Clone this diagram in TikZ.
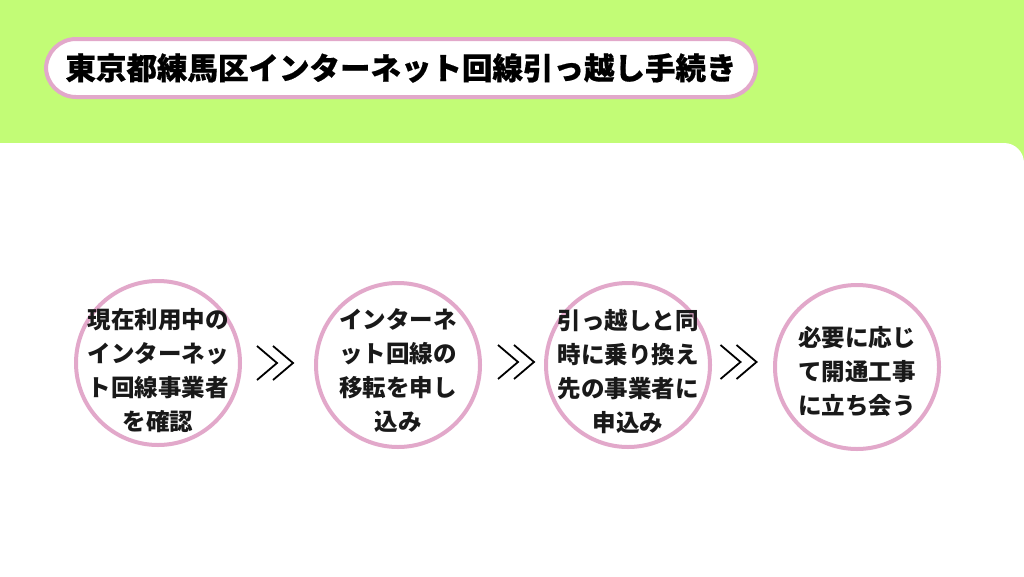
\documentclass[tikz,border=0pt]{standalone}
\usepackage{fontspec}
\newfontfamily\cjk{Noto Sans CJK JP}
\newfontfamily\cjkt[BoldFeatures={FakeBold=0.6}]{Noto Sans CJK JP}
\usetikzlibrary{calc}
\definecolor{bggreen}{RGB}{194,252,118}
\definecolor{pinkline}{RGB}{226,168,202}
\tikzset{
  titlebox/.style={draw=pinkline, line width=4pt, fill=white, rounded corners=30pt,
    minimum width=710pt, minimum height=58pt, inner sep=0pt,
    font=\cjkt\bfseries\fontsize{30.5}{30.5}\selectfont},
  stepcircle/.style={circle, draw=pinkline, line width=4pt, minimum size=164pt,
    inner sep=0pt},
  steptext/.style={align=center, text=black!90, inner sep=0pt,
    font=\cjk\bfseries\fontsize{23.5}{34}\selectfont},
  chev/.style={draw=black, line width=1.8pt, line join=miter},
}
\begin{document}
\begin{tikzpicture}[x=1pt,y=-1pt]
\useasboundingbox (0,0) rectangle (1024,576);
\begin{scope}
\clip (0,0) rectangle (1024,576);
\fill[bggreen] (0,0) rectangle (1024,576);
\fill[white] (0,143) rectangle (1000,576);
\fill[white, rounded corners=20pt] (960,143) rectangle (1024,620);
\end{scope}

\node[titlebox] (title) at (401,68) {東京都練馬区インターネット回線引っ越し手続き};

\node[stepcircle] (s1) at (158,363) {};
\node[stepcircle] (s2) at (398,365) {};
\node[stepcircle] (s3) at (628,365) {};
\node[stepcircle] (s4) at (857,367) {};

\node[steptext] (t1) at ($(s1.center)+(0,8)$) {現在利用中の\\インターネッ\\ト回線事業者\\を確認};
\node[steptext] (t2) at ($(s2.center)+(0,6)$) {インターネ\\ット回線の\\移転を申し\\込み};
\node[steptext] (t3) at ($(s3.center)+(0,7)$) {引っ越しと同\\時に乗り換え\\先の事業者に\\申込み};
\node[steptext] (t4) at ($(s4.center)+(0,5)$) {必要に応じ\\て開通工事\\に立ち会う};

\coordinate (c1) at ($(s1.east)!0.5!(s2.west)+(-3,-1)$);
\coordinate (c2) at ($(s2.east)!0.5!(s3.west)+(3,-3)$);
\coordinate (c3) at ($(s3.east)!0.5!(s4.west)+(-4,-4)$);
\foreach \c in {c1,c2,c3}{
  \draw[chev] (\c) ++(-18,-17) -- ++(20,17) -- ++(-20,17);
  \draw[chev] (\c) ++(-2,-17) -- ++(20,17) -- ++(-20,17);
}
\end{tikzpicture}
\end{document}
